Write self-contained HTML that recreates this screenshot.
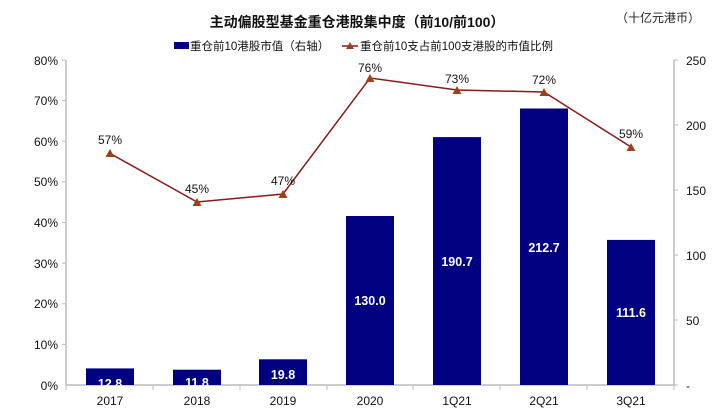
<!DOCTYPE html>
<html><head><meta charset="utf-8"><style>body{margin:0;background:#fff}svg{display:block}</style></head><body>
<svg width="715" height="413" xmlns="http://www.w3.org/2000/svg" font-family="Liberation Sans, Noto Sans CJK SC, sans-serif">
<text x="357" y="27" font-size="14" font-weight="bold" text-anchor="middle" fill="#111">主动偏股型基金重仓港股集中度（前10/前100）</text>
<text x="700" y="22" font-size="12" text-anchor="end" fill="#222">（十亿元港币）</text>
<rect x="174" y="42" width="15" height="7" fill="#000080"/>
<text x="190" y="50" font-size="11.5" fill="#111">重仓前10港股市值（右轴）</text>
<line x1="342" y1="46" x2="358" y2="46" stroke="#8B1A1A" stroke-width="1.5"/>
<polygon points="350,42 354,49 346,49" fill="#A0401A"/>
<text x="360" y="50" font-size="11.5" fill="#111">重仓前10支占前100支港股的市值比例</text>
<g stroke="#bbb" stroke-width="1.5" fill="none">
<line x1="66" y1="60" x2="66" y2="385"/>
<line x1="674" y1="60" x2="674" y2="385"/>
<line x1="66" y1="385" x2="674" y2="385"/>
</g>
<g stroke="#bbb">
<line x1="62" y1="60" x2="66" y2="60"/><line x1="62" y1="100.6" x2="66" y2="100.6"/><line x1="62" y1="141.25" x2="66" y2="141.25"/><line x1="62" y1="181.9" x2="66" y2="181.9"/><line x1="62" y1="222.5" x2="66" y2="222.5"/><line x1="62" y1="263.1" x2="66" y2="263.1"/><line x1="62" y1="303.75" x2="66" y2="303.75"/><line x1="62" y1="344.4" x2="66" y2="344.4"/>
<line x1="674" y1="60" x2="678" y2="60"/><line x1="674" y1="125" x2="678" y2="125"/><line x1="674" y1="190" x2="678" y2="190"/><line x1="674" y1="255" x2="678" y2="255"/><line x1="674" y1="320" x2="678" y2="320"/><line x1="674" y1="385" x2="678" y2="385"/>
<line x1="66" y1="385" x2="66" y2="390"/><line x1="153" y1="385" x2="153" y2="390"/><line x1="240" y1="385" x2="240" y2="390"/><line x1="327" y1="385" x2="327" y2="390"/><line x1="413" y1="385" x2="413" y2="390"/><line x1="500" y1="385" x2="500" y2="390"/><line x1="587" y1="385" x2="587" y2="390"/><line x1="674" y1="385" x2="674" y2="390"/>
</g>
<g font-size="12" fill="#111" text-anchor="end">
<text x="58" y="65">80%</text><text x="58" y="105">70%</text><text x="58" y="146">60%</text><text x="58" y="186">50%</text><text x="58" y="227">40%</text><text x="58" y="268">30%</text><text x="58" y="308">20%</text><text x="58" y="349">10%</text><text x="58" y="390">0%</text>
</g>
<g font-size="12" fill="#111">
<text x="686" y="65">250</text><text x="686" y="130">200</text><text x="686" y="195">150</text><text x="686" y="260">100</text><text x="686" y="325">50</text><text x="686" y="390">-</text>
</g>
<g font-size="12" fill="#111" text-anchor="middle">
<text x="110" y="405">2017</text><text x="197" y="405">2018</text><text x="283" y="405">2019</text><text x="370" y="405">2020</text><text x="457" y="405">1Q21</text><text x="544" y="405">2Q21</text><text x="631" y="405">3Q21</text>
</g>
<g fill="#000080">
<rect x="86" y="368.4" width="48" height="16.6"/>
<rect x="173" y="369.7" width="48" height="15.3"/>
<rect x="259" y="359.3" width="48" height="25.7"/>
<rect x="346" y="216" width="48" height="169"/>
<rect x="433" y="137.1" width="48" height="247.9"/>
<rect x="520" y="108.5" width="48" height="276.5"/>
<rect x="607" y="239.9" width="48" height="145.1"/>
</g>
<g font-size="12.5" font-weight="bold" fill="#fff" text-anchor="middle">
<text x="110" y="388">12.8</text><text x="197" y="387">11.8</text><text x="283" y="379">19.8</text><text x="370" y="305">130.0</text><text x="457" y="266">190.7</text><text x="544" y="252">212.7</text><text x="631" y="317">111.6</text>
</g>
<polyline points="110,153.4 197,202 283,194 370,78 457,90 544,92 631,147" fill="none" stroke="#8B1A1A" stroke-width="1.5"/>
<g fill="#A0401A">
<polygon points="110,149 114.5,157 105.5,157"/><polygon points="197,198 201.5,206 192.5,206"/><polygon points="283,190 287.5,198 278.5,198"/><polygon points="370,74 374.5,82 365.5,82"/><polygon points="457,86 461.5,94 452.5,94"/><polygon points="544,88 548.5,96 539.5,96"/><polygon points="631,143 635.5,151 626.5,151"/>
</g>
<g font-size="12" fill="#111" text-anchor="middle">
<text x="110" y="144">57%</text><text x="197" y="193">45%</text><text x="283" y="185">47%</text><text x="370" y="72">76%</text><text x="457" y="83">73%</text><text x="544" y="84">72%</text><text x="631" y="138">59%</text>
</g>
</svg>
</body></html>
